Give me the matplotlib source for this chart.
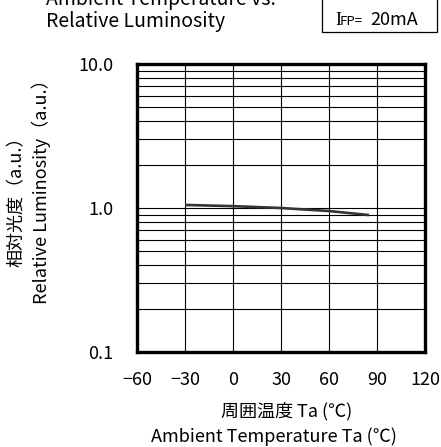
import matplotlib
matplotlib.use("Agg")
import matplotlib.pyplot as plt
from matplotlib.patches import Rectangle

plt.rcParams['font.family'] = ['Noto Sans CJK JP', 'DejaVu Sans']

# data
temps = [-30, 0, 30, 60, 85]
lum = [1.05, 1.03, 1.0, 0.953, 0.893]
x_ticks = [-60, -30, 0, 30, 60, 90, 120]
x_labels = ['\u221260', '\u221230', '0', '30', '60', '90', '120']
y_ticks = [0.1, 1.0, 10.0]
y_labels = ['0.1', '1.0', '10.0']

W, H = 441, 447
fig = plt.figure(figsize=(W / 100, H / 100), dpi=100)
ax = fig.add_axes([137 / W, 1 - 352 / H, 288 / W, 288 / H])

ax.set_yscale('log')
ax.set_xlim(-60, 120)
ax.set_ylim(0.1, 10)
ax.plot(temps, lum, color='#333333', lw=1.9, solid_capstyle='butt', zorder=3)

ax.set_xticks(x_ticks)
ax.set_xticklabels(x_labels, fontsize=13)
ax.set_yticks(y_ticks)
ax.set_yticklabels(y_labels, fontsize=13)
ax.set_yticks([v * d for d in (0.1, 1) for v in range(2, 10)], minor=True)
ax.yaxis.set_minor_formatter(plt.NullFormatter())
ax.tick_params(axis='both', which='both', length=0)
ax.tick_params(axis='x', pad=14)
ax.tick_params(axis='y', pad=17)
ax.grid(True, which='both', color='black', lw=0.8)
for s in ax.spines.values():
    s.set_linewidth(2.4)

# axis titles
fig.text(17 / W, 1 - 197 / H, '相対光度（a.u.）', rotation=90, ha='center', va='center', fontsize=13)
fig.text(41 / W, 1 - 187 / H, 'Relative Luminosity（a.u.）', rotation=90, ha='center', va='center', fontsize=13)
fig.text(287 / W, 1 - 411 / H, '周囲温度 Ta (℃)', ha='center', va='center', fontsize=13)
fig.text(274 / W, 1 - 437 / H, 'Ambient Temperature Ta (℃)', ha='center', va='center', fontsize=13)

# chart title, partly cut off at the top as in the reference
fig.text(46 / W, 1 - 22 / H, 'Relative Luminosity', ha='left', va='center', fontsize=14)
fig.text(46 / W, 1 + 1 / H, 'Ambient Temperature vs.', ha='left', va='center', fontsize=14)

# condition box
fig.add_artist(Rectangle((321.5 / W, 1 - 31.5 / H), 115 / W, 33 / H, transform=fig.transFigure,
                         fill=False, edgecolor='black', lw=0.9))
fig.text(335 / W, 1 - 25 / H, 'I', ha='left', va='baseline', fontsize=13, family='Liberation Serif')
fig.text(340 / W, 1 - 25 / H, 'FP=', ha='left', va='baseline', fontsize=9.5)
fig.text(370 / W, 1 - 25 / H, '20mA', ha='left', va='baseline', fontsize=13)

fig.savefig('out.png', dpi=100)
